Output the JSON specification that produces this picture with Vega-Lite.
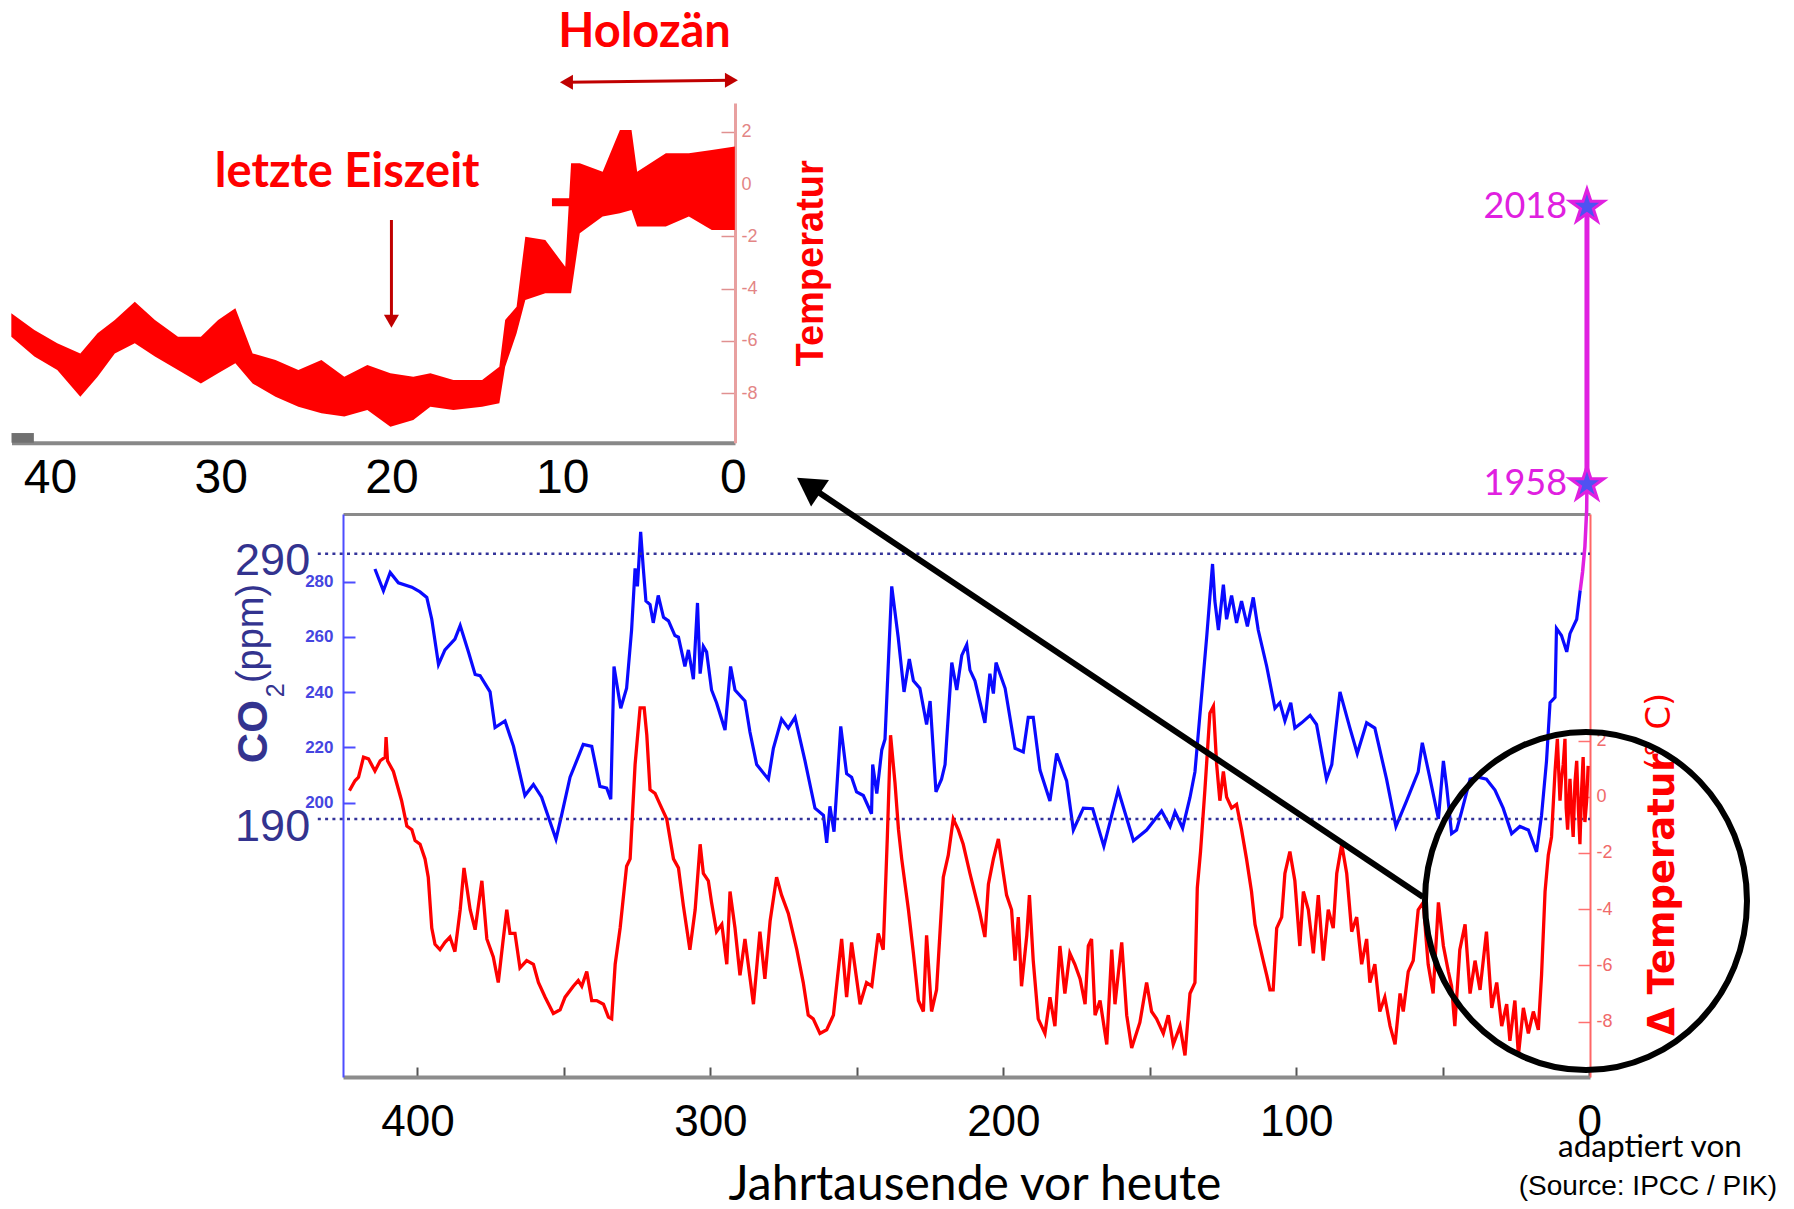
{
  "$schema": "https://vega.github.io/schema/vega-lite/v6.json",
  "width": 1247,
  "height": 563,
  "autosize": {"type": "none"},
  "padding": {"left": 343, "top": 514, "right": 204, "bottom": 132},
  "background": "white",
  "config": {"view": {"stroke": null}, "font": "Liberation Sans"},
  "datasets": {
    "co2": [
      {"kyr":414.5,"co2":284.6},{"kyr":411.6,"co2":276.7},{"kyr":409.3,"co2":283.3},{"kyr":406.5,"co2":279.6},{"kyr":401.9,"co2":278.0},{"kyr":399.1,"co2":276.3},{"kyr":396.8,"co2":274.3},{"kyr":395.1,"co2":266.4},{"kyr":392.8,"co2":250.0},{"kyr":390.6,"co2":255.3},{"kyr":387.2,"co2":259.2},{"kyr":385.4,"co2":264.1},{"kyr":382.6,"co2":254.6},{"kyr":380.3,"co2":246.4},{"kyr":378.6,"co2":246.0},{"kyr":375.2,"co2":240.1},{"kyr":373.5,"co2":227.2},{"kyr":370.1,"co2":229.6},{"kyr":367.2,"co2":220.4},{"kyr":363.3,"co2":202.6},{"kyr":360.4,"co2":206.6},{"kyr":357.6,"co2":202.0},{"kyr":352.7,"co2":186.8},{"kyr":350.8,"co2":195.4},{"kyr":347.9,"co2":209.2},{"kyr":343.4,"co2":221.1},{"kyr":340.5,"co2":220.4},{"kyr":337.7,"co2":205.9},{"kyr":335.4,"co2":205.3},{"kyr":334.0,"co2":201.3},{"kyr":332.9,"co2":249.3},{"kyr":330.6,"co2":234.2},{"kyr":328.6,"co2":241.4},{"kyr":326.9,"co2":262.5},{"kyr":325.7,"co2":284.8},{"kyr":324.9,"co2":278.3},{"kyr":323.8,"co2":298.0},{"kyr":322.9,"co2":284.8},{"kyr":322.0,"co2":273.0},{"kyr":320.6,"co2":271.7},{"kyr":319.5,"co2":265.1},{"kyr":317.8,"co2":275.0},
      {"kyr":316.0,"co2":267.1},{"kyr":314.3,"co2":265.8},{"kyr":312.1,"co2":260.5},{"kyr":310.9,"co2":259.9},{"kyr":308.7,"co2":249.3},{"kyr":307.5,"co2":255.3},{"kyr":305.8,"co2":244.7},{"kyr":304.4,"co2":272.3},{"kyr":303.5,"co2":246.7},{"kyr":302.4,"co2":256.6},{"kyr":301.3,"co2":254.6},{"kyr":299.6,"co2":240.8},{"kyr":297.9,"co2":236.2},{"kyr":295.0,"co2":226.3},{"kyr":293.1,"co2":249.3},{"kyr":291.6,"co2":240.8},{"kyr":288.2,"co2":236.8},{"kyr":286.5,"co2":225.6},{"kyr":284.2,"co2":213.8},{"kyr":280.2,"co2":208.5},{"kyr":278.5,"co2":219.7},{"kyr":275.7,"co2":230.3},{"kyr":273.4,"co2":227.0},{"kyr":271.1,"co2":230.9},{"kyr":267.7,"co2":215.1},{"kyr":264.3,"co2":198.0},{"kyr":261.4,"co2":195.4},{"kyr":260.3,"co2":185.5},{"kyr":259.2,"co2":198.7},{"kyr":257.8,"co2":189.5},{"kyr":255.5,"co2":227.6},{"kyr":253.5,"co2":210.5},{"kyr":251.8,"co2":209.2},{"kyr":250.1,"co2":203.9},{"kyr":247.8,"co2":202.6},{"kyr":245.0,"co2":196.0},{"kyr":244.6,"co2":213.8},{"kyr":243.2,"co2":203.3},{"kyr":241.5,"co2":219.1},{"kyr":240.4,"co2":223.0},{"kyr":238.1,"co2":278.3},{"kyr":235.9,"co2":259.9},{"kyr":233.9,"co2":240.1},{"kyr":232.1,"co2":252.0},{"kyr":230.7,"co2":244.1},{"kyr":228.5,"co2":241.4},{"kyr":226.2,"co2":228.3},{"kyr":225.0,"co2":236.8},{"kyr":223.0,"co2":203.9},{"kyr":221.1,"co2":208.5},{"kyr":219.9,"co2":213.8},{"kyr":217.6,"co2":250.7},{"kyr":215.9,"co2":240.8},{"kyr":214.2,"co2":253.3},{"kyr":212.5,"co2":257.2},{"kyr":211.4,"co2":248.0},
      {"kyr":209.7,"co2":244.1},{"kyr":206.3,"co2":228.9},{"kyr":204.6,"co2":246.7},{"kyr":203.4,"co2":239.5},{"kyr":202.5,"co2":250.7},{"kyr":199.4,"co2":241.4},{"kyr":196.0,"co2":219.7},{"kyr":193.2,"co2":218.4},{"kyr":191.5,"co2":230.9},{"kyr":189.8,"co2":230.9},{"kyr":187.5,"co2":211.8},{"kyr":184.1,"co2":200.6},{"kyr":181.8,"co2":217.8},{"kyr":178.4,"co2":207.9},{"kyr":176.1,"co2":190.1},{"kyr":172.7,"co2":198.0},{"kyr":169.5,"co2":197.8},{"kyr":165.7,"co2":184.2},{"kyr":160.8,"co2":204.6},{"kyr":155.6,"co2":186.2},{"kyr":151.1,"co2":190.1},{"kyr":146.0,"co2":197.0},{"kyr":143.1,"co2":191.4},{"kyr":141.4,"co2":196.7},{"kyr":138.8,"co2":190.8},{"kyr":136.3,"co2":201.9},{"kyr":134.6,"co2":211.2},{"kyr":130.6,"co2":259.9},{"kyr":128.6,"co2":286.4},{"kyr":127.8,"co2":273.0},{"kyr":126.6,"co2":262.5},{"kyr":124.9,"co2":278.9},{"kyr":123.8,"co2":266.4},{"kyr":122.1,"co2":275.0},{"kyr":120.4,"co2":265.1},{"kyr":118.7,"co2":273.0},{"kyr":116.7,"co2":263.8},{"kyr":114.7,"co2":274.3},{"kyr":113.0,"co2":262.5},{"kyr":110.1,"co2":249.3},
      {"kyr":107.3,"co2":234.2},{"kyr":105.6,"co2":236.2},{"kyr":103.9,"co2":229.6},{"kyr":101.9,"co2":236.2},{"kyr":100.5,"co2":227.0},{"kyr":98.2,"co2":228.9},{"kyr":95.3,"co2":231.6},{"kyr":93.1,"co2":228.3},{"kyr":89.7,"co2":208.5},{"kyr":87.9,"co2":213.8},{"kyr":85.1,"co2":240.1},{"kyr":81.7,"co2":227.0},{"kyr":79.2,"co2":217.8},{"kyr":76.0,"co2":228.9},{"kyr":73.2,"co2":227.0},{"kyr":69.2,"co2":208.5},{"kyr":66.0,"co2":191.4},{"kyr":62.4,"co2":200.6},{"kyr":58.4,"co2":211.2},{"kyr":57.0,"co2":221.7},{"kyr":54.6,"co2":209.9},{"kyr":51.5,"co2":194.1},{"kyr":49.8,"co2":215.1},{"kyr":48.7,"co2":205.9},{"kyr":47.0,"co2":188.8},{"kyr":45.3,"co2":190.1},{"kyr":43.6,"co2":196.7},{"kyr":40.7,"co2":208.5},{"kyr":37.9,"co2":209.2},{"kyr":35.1,"co2":208.5},{"kyr":32.2,"co2":204.6},{"kyr":29.4,"co2":198.0},{"kyr":26.5,"co2":188.8},{"kyr":23.7,"co2":191.4},{"kyr":20.8,"co2":190.1},{"kyr":18.0,"co2":182.2},{"kyr":16.3,"co2":195.4},{"kyr":14.6,"co2":215.1},{"kyr":13.4,"co2":236.2},{"kyr":11.7,"co2":238.1},{"kyr":11.2,"co2":263.1},{"kyr":9.5,"co2":260.5},{"kyr":7.7,"co2":254.6},{"kyr":6.6,"co2":261.2},{"kyr":4.3,"co2":266.4},{"kyr":3.1,"co2":276.9}
    ],
    "temp": [
      {"kyr":423.2,"temp":0.22},{"kyr":421.3,"temp":0.57},{"kyr":420.1,"temp":0.70},{"kyr":418.4,"temp":1.41},{"kyr":416.7,"temp":1.35},{"kyr":414.5,"temp":0.92},{"kyr":412.7,"temp":1.28},{"kyr":411.0,"temp":1.41},{"kyr":410.7,"temp":2.12},{"kyr":410.2,"temp":1.28},{"kyr":408.2,"temp":0.90},{"kyr":405.4,"temp":-0.14},{"kyr":403.6,"temp":-1.04},{"kyr":401.9,"temp":-1.17},{"kyr":400.8,"temp":-1.56},{"kyr":399.1,"temp":-1.69},{"kyr":397.4,"temp":-2.21},{"kyr":396.3,"temp":-2.86},{"kyr":395.1,"temp":-4.67},{"kyr":394.0,"temp":-5.25},{"kyr":392.3,"temp":-5.44},{"kyr":390.6,"temp":-5.18},{"kyr":388.9,"temp":-4.99},{"kyr":387.2,"temp":-5.51},{"kyr":385.4,"temp":-4.02},{"kyr":384.1,"temp":-2.53},{"kyr":382.0,"temp":-4.02},{"kyr":380.3,"temp":-4.73},{"kyr":379.2,"temp":-3.89},{"kyr":378.0,"temp":-2.99},{"kyr":376.3,"temp":-5.06},{"kyr":374.1,"temp":-5.70},{"kyr":372.4,"temp":-6.61},{"kyr":370.7,"temp":-5.06},{"kyr":369.5,"temp":-4.02},{"kyr":368.4,"temp":-4.86},{"kyr":366.7,"temp":-4.86},{"kyr":365.0,"temp":-6.09},{"kyr":362.7,"temp":-5.83},{"kyr":360.4,"temp":-5.96},{"kyr":358.7,"temp":-6.61},{"kyr":356.4,"temp":-7.13},{"kyr":353.6,"temp":-7.71},{"kyr":351.3,"temp":-7.58},{"kyr":349.6,"temp":-7.13},{"kyr":346.8,"temp":-6.74},{"kyr":345.1,"temp":-6.54},{"kyr":343.9,"temp":-6.74},{"kyr":342.2,"temp":-6.22},{"kyr":340.5,"temp":-7.25},{"kyr":338.8,"temp":-7.25},{"kyr":336.5,"temp":-7.38},{"kyr":334.8,"temp":-7.84},{"kyr":333.7,"temp":-7.90},{"kyr":332.5,"temp":-5.96},{"kyr":330.8,"temp":-4.67},{"kyr":328.6,"temp":-2.47},{"kyr":327.4,"temp":-2.21},{"kyr":325.7,"temp":1.15},{"kyr":324.0,"temp":3.16},{"kyr":322.6,"temp":3.16},{"kyr":321.7,"temp":2.19},{"kyr":320.6,"temp":0.25},{"kyr":318.9,"temp":0.12},{"kyr":317.2,"temp":-0.27},
      {"kyr":314.9,"temp":-0.79},{"kyr":312.6,"temp":-2.21},{"kyr":310.9,"temp":-2.53},{"kyr":309.2,"temp":-3.89},{"kyr":307.0,"temp":-5.44},{"kyr":305.2,"temp":-4.02},{"kyr":303.5,"temp":-1.69},{"kyr":302.4,"temp":-2.73},{"kyr":300.7,"temp":-2.99},{"kyr":299.6,"temp":-3.76},{"kyr":297.9,"temp":-4.80},{"kyr":296.1,"temp":-4.54},{"kyr":294.4,"temp":-5.96},{"kyr":293.3,"temp":-3.37},{"kyr":291.6,"temp":-4.67},{"kyr":289.9,"temp":-6.35},{"kyr":288.2,"temp":-5.06},{"kyr":285.3,"temp":-7.38},{"kyr":283.1,"temp":-4.80},{"kyr":281.4,"temp":-6.48},{"kyr":279.6,"temp":-4.41},{"kyr":277.4,"temp":-2.86},{"kyr":275.7,"temp":-3.50},{"kyr":273.4,"temp":-4.15},{"kyr":270.5,"temp":-5.44},{"kyr":268.3,"temp":-6.61},{"kyr":266.6,"temp":-7.77},{"kyr":264.9,"temp":-7.90},{"kyr":262.6,"temp":-8.42},{"kyr":260.3,"temp":-8.29},{"kyr":258.0,"temp":-7.77},{"kyr":255.2,"temp":-5.06},{"kyr":253.5,"temp":-7.13},{"kyr":251.8,"temp":-5.18},{"kyr":250.6,"temp":-6.09},{"kyr":248.9,"temp":-7.38},{"kyr":246.7,"temp":-6.61},{"kyr":244.9,"temp":-6.74},{"kyr":242.7,"temp":-4.86},{"kyr":241.0,"temp":-5.44},{"kyr":239.6,"temp":-1.43},{"kyr":238.5,"temp":2.19},{"kyr":237.0,"temp":0.51},{"kyr":235.8,"temp":-1.17},{"kyr":234.7,"temp":-2.21},{"kyr":232.4,"temp":-4.02},{"kyr":230.7,"temp":-5.57},{"kyr":229.0,"temp":-7.25},{"kyr":227.3,"temp":-7.64},{"kyr":226.2,"temp":-4.93},{"kyr":224.5,"temp":-7.64},{"kyr":222.8,"temp":-6.87},{"kyr":220.5,"temp":-2.86},{"kyr":218.8,"temp":-2.08},{"kyr":217.1,"temp":-0.79},{"kyr":215.4,"temp":-1.17},{"kyr":213.7,"temp":-1.69},{"kyr":211.4,"temp":-2.73},
      {"kyr":208.0,"temp":-4.15},{"kyr":206.3,"temp":-4.99},{"kyr":205.1,"temp":-3.11},{"kyr":203.4,"temp":-2.21},{"kyr":201.7,"temp":-1.50},{"kyr":200.0,"temp":-2.73},{"kyr":198.9,"temp":-3.50},{"kyr":197.2,"temp":-4.02},{"kyr":196.0,"temp":-5.83},{"kyr":194.9,"temp":-4.28},{"kyr":193.8,"temp":-6.74},{"kyr":192.0,"temp":-4.93},{"kyr":191.1,"temp":-3.50},{"kyr":189.8,"temp":-5.83},{"kyr":188.1,"temp":-7.90},{"kyr":185.8,"temp":-8.42},{"kyr":184.1,"temp":-7.13},{"kyr":182.4,"temp":-8.16},{"kyr":180.7,"temp":-5.31},{"kyr":179.0,"temp":-7.00},{"kyr":177.3,"temp":-5.57},{"kyr":175.6,"temp":-5.96},{"kyr":173.8,"temp":-6.48},{"kyr":172.1,"temp":-7.38},{"kyr":171.0,"temp":-5.31},{"kyr":169.9,"temp":-5.06},{"kyr":168.7,"temp":-7.77},{"kyr":167.0,"temp":-7.25},{"kyr":164.7,"temp":-8.81},{"kyr":163.0,"temp":-5.44},{"kyr":161.9,"temp":-7.38},{"kyr":159.6,"temp":-5.18},{"kyr":157.9,"temp":-7.77},{"kyr":156.2,"temp":-8.94},{"kyr":153.4,"temp":-8.03},{"kyr":151.1,"temp":-6.61},{"kyr":149.4,"temp":-7.64},{"kyr":147.7,"temp":-7.90},{"kyr":145.4,"temp":-8.42},{"kyr":143.7,"temp":-7.77},{"kyr":142.0,"temp":-8.81},{"kyr":139.7,"temp":-8.16},{"kyr":138.0,"temp":-9.20},{"kyr":136.3,"temp":-7.00},{"kyr":134.6,"temp":-6.61},{"kyr":133.8,"temp":-3.24},{"kyr":132.7,"temp":-1.95},{"kyr":131.2,"temp":0.25},{"kyr":129.5,"temp":2.97},{"kyr":128.3,"temp":3.22},{"kyr":127.2,"temp":1.15},{"kyr":126.1,"temp":-0.14},{"kyr":124.9,"temp":0.90},{"kyr":123.8,"temp":-0.01},{"kyr":122.1,"temp":-0.40},{"kyr":120.4,"temp":-0.27},{"kyr":118.7,"temp":-1.17},{"kyr":117.0,"temp":-2.21},{"kyr":115.3,"temp":-3.37},{"kyr":114.1,"temp":-4.54},{"kyr":113.0,"temp":-5.06},{"kyr":111.3,"temp":-5.83},{"kyr":110.1,"temp":-6.35},{"kyr":109.0,"temp":-6.87},
      {"kyr":107.9,"temp":-6.87},{"kyr":106.7,"temp":-4.67},{"kyr":105.0,"temp":-4.28},{"kyr":103.9,"temp":-2.73},{"kyr":102.2,"temp":-1.95},{"kyr":100.5,"temp":-2.99},{"kyr":98.8,"temp":-5.31},{"kyr":97.6,"temp":-3.37},{"kyr":95.9,"temp":-4.02},{"kyr":94.2,"temp":-5.57},{"kyr":92.5,"temp":-3.50},{"kyr":90.8,"temp":-5.83},{"kyr":89.1,"temp":-4.02},{"kyr":87.4,"temp":-4.67},{"kyr":86.2,"temp":-2.73},{"kyr":84.5,"temp":-1.69},{"kyr":82.8,"temp":-2.73},{"kyr":81.1,"temp":-4.80},{"kyr":79.4,"temp":-4.28},{"kyr":77.7,"temp":-5.96},{"kyr":76.0,"temp":-5.06},{"kyr":74.9,"temp":-6.61},{"kyr":73.2,"temp":-5.96},{"kyr":71.5,"temp":-7.64},{"kyr":69.8,"temp":-7.13},{"kyr":68.0,"temp":-8.16},{"kyr":66.3,"temp":-8.81},{"kyr":64.6,"temp":-7.00},{"kyr":63.5,"temp":-7.64},{"kyr":61.8,"temp":-6.22},{"kyr":60.1,"temp":-5.83},{"kyr":58.4,"temp":-4.02},{"kyr":56.7,"temp":-3.76},{"kyr":55.0,"temp":-5.96},{"kyr":53.3,"temp":-7.00},{"kyr":51.5,"temp":-3.76},{"kyr":49.8,"temp":-5.31},{"kyr":48.1,"temp":-6.22},{"kyr":47.0,"temp":-6.74},{"kyr":45.9,"temp":-8.16},{"kyr":44.2,"temp":-5.44},{"kyr":42.4,"temp":-4.54},{"kyr":40.7,"temp":-7.00},{"kyr":39.0,"temp":-5.83},{"kyr":37.3,"temp":-6.87},{"kyr":35.1,"temp":-4.80},{"kyr":33.3,"temp":-7.51},{"kyr":31.6,"temp":-6.61},{"kyr":29.9,"temp":-8.16},{"kyr":28.2,"temp":-7.38},{"kyr":27.1,"temp":-8.68},{"kyr":25.4,"temp":-7.25},{"kyr":24.2,"temp":-9.20},{"kyr":22.5,"temp":-7.51},{"kyr":20.8,"temp":-8.42},{"kyr":19.1,"temp":-7.64},{"kyr":17.4,"temp":-8.29},{"kyr":16.3,"temp":-6.35},{"kyr":15.1,"temp":-3.37},{"kyr":14.0,"temp":-2.08},{"kyr":12.9,"temp":-1.43},{"kyr":11.7,"temp":0.90},{"kyr":10.9,"temp":2.06},{"kyr":10.0,"temp":-0.14},{"kyr":9.5,"temp":0.6},{"kyr":8.9,"temp":1.15},{"kyr":8.3,"temp":2.06},{"kyr":7.9,"temp":-0.4},{"kyr":7.4,"temp":-1.17},{"kyr":6.6,"temp":0.64},{"kyr":6.0,"temp":-0.6},{"kyr":5.5,"temp":-1.43},{"kyr":4.9,"temp":0.5},{"kyr":4.3,"temp":1.28},{"kyr":3.7,"temp":-0.5},{"kyr":3.2,"temp":-1.69},{"kyr":2.6,"temp":0.3},{"kyr":2.1,"temp":1.41},{"kyr":1.5,"temp":-0.9},{"kyr":0.9,"temp":-0.14},{"kyr":0.4,"temp":1.1}
    ],
    "inset": [
      {"kyr":42.26,"hi":-4.94,"lo":-5.84},{"kyr":40.91,"hi":-5.58,"lo":-6.60},{"kyr":39.57,"hi":-6.09,"lo":-7.12},{"kyr":38.22,"hi":-6.48,"lo":-8.14},{"kyr":37.21,"hi":-5.71,"lo":-7.37},{"kyr":36.20,"hi":-5.20,"lo":-6.48},{"kyr":35.03,"hi":-4.50,"lo":-6.09},{"kyr":33.85,"hi":-5.20,"lo":-6.60},{"kyr":32.50,"hi":-5.84,"lo":-7.12},{"kyr":31.16,"hi":-5.84,"lo":-7.63},{"kyr":30.15,"hi":-5.20,"lo":-7.24},{"kyr":29.14,"hi":-4.75,"lo":-6.86},{"kyr":28.13,"hi":-6.48,"lo":-7.63},{"kyr":26.79,"hi":-6.73,"lo":-8.14},{"kyr":25.45,"hi":-7.12,"lo":-8.52},{"kyr":24.10,"hi":-6.73,"lo":-8.77},{"kyr":22.76,"hi":-7.37,"lo":-8.90},{"kyr":21.41,"hi":-6.92,"lo":-8.65},{"kyr":20.06,"hi":-7.24,"lo":-9.29},{"kyr":18.72,"hi":-7.37,"lo":-9.03},{"kyr":17.72,"hi":-7.24,"lo":-8.52},{"kyr":16.37,"hi":-7.50,"lo":-8.65},{"kyr":14.69,"hi":-7.50,"lo":-8.52},{"kyr":13.68,"hi":-6.99,"lo":-8.39},{"kyr":13.34,"hi":-5.20,"lo":-6.99},{"kyr":12.67,"hi":-4.69,"lo":-5.71},{"kyr":12.16,"hi":-2.01,"lo":-4.43},{"kyr":10.99,"hi":-2.14,"lo":-4.18},{"kyr":9.82,"hi":-3.16,"lo":-4.18},{"kyr":9.48,"hi":0.80,"lo":-4.18},{"kyr":8.97,"hi":0.80,"lo":-1.88},{"kyr":7.63,"hi":0.48,"lo":-1.24},{"kyr":6.62,"hi":2.08,"lo":-1.11},{"kyr":5.94,"hi":2.08,"lo":-0.99},{"kyr":5.61,"hi":0.48,"lo":-1.62},{"kyr":3.93,"hi":1.19,"lo":-1.62},{"kyr":2.58,"hi":1.19,"lo":-1.24},{"kyr":1.24,"hi":1.31,"lo":-1.75},{"kyr":-0.11,"hi":1.44,"lo":-1.75}
    ]
  },
  "layer": [
    {
      "layer": [
        {
          "data": {"name": "co2"},
          "mark": {"type": "line", "color": "#0a0aff", "strokeWidth": 3.2, "clip": false},
          "encoding": {
            "x": {"field": "kyr", "type": "quantitative", "scale": {"domain": [425.4, -0.24], "nice": false, "zero": false},
              "axis": {"orient": "bottom", "title": null, "grid": false, "values": [400, 350, 300, 250, 200, 150, 100, 50, 0],
                "labelExpr": "datum.value % 100 == 0 ? datum.label : ''", "tickSize": -10, "tickColor": "#555555", "tickWidth": 2,
                "labelFont": "Liberation Sans", "labelFontSize": 44, "labelColor": "#000000", "labelPadding": 33, "labelFlush": false, "labelOverlap": false,
                "domainColor": "#8c8c8c", "domainWidth": 4}},
            "y": {"field": "co2", "type": "quantitative", "scale": {"domain": [100.7, 304.5], "nice": false, "zero": false},
              "axis": {"orient": "left", "title": null, "grid": false, "values": [200, 220, 240, 260, 280], "tickSize": -12, "tickColor": "#4d4dff", "tickWidth": 2,
                "labelFont": "Liberation Sans", "labelFontWeight": "bold", "labelFontSize": 17, "labelColor": "#4545e0", "labelPadding": 22, "labelOverlap": false,
                "domainColor": "#4d4dff", "domainWidth": 2}}
          }
        },
        {
          "data": {"values": [{"kyr": 434, "kyr2": -0.24, "co2": 290.1}, {"kyr": 434, "kyr2": -0.24, "co2": 194.1}]},
          "mark": {"type": "rule", "color": "#333399", "strokeWidth": 2.5, "strokeDash": [3, 4.3], "clip": false},
          "encoding": {
            "x": {"field": "kyr", "type": "quantitative", "scale": {"domain": [425.4, -0.24], "nice": false, "zero": false}},
            "x2": {"field": "kyr2"},
            "y": {"field": "co2", "type": "quantitative", "scale": {"domain": [100.7, 304.5], "nice": false, "zero": false}}
          }
        },
        {
          "data": {"values": [{"kyr": 3.1, "co2": 276.9}, {"kyr": 2.3, "co2": 283.5}, {"kyr": 1.5, "co2": 292.7}, {"kyr": 0.9, "co2": 305.9}, {"kyr": 0.8, "co2": 315.3}]},
          "mark": {"type": "line", "color": "#e020e0", "strokeWidth": 3.5, "clip": false},
          "encoding": {
            "x": {"field": "kyr", "type": "quantitative", "scale": {"domain": [425.4, -0.24], "nice": false, "zero": false}},
            "y": {"field": "co2", "type": "quantitative", "scale": {"domain": [100.7, 304.5], "nice": false, "zero": false}}
          }
        },
        {
          "data": {"values": [{"kyr": 0.8, "co2": 315.3, "co2b": 415.7}]},
          "mark": {"type": "rule", "color": "#e020e0", "strokeWidth": 5, "clip": false},
          "encoding": {
            "x": {"field": "kyr", "type": "quantitative", "scale": {"domain": [425.4, -0.24], "nice": false, "zero": false}},
            "y": {"field": "co2", "type": "quantitative", "scale": {"domain": [100.7, 304.5], "nice": false, "zero": false}},
            "y2": {"field": "co2b"}
          }
        },
        {
          "data": {"values": [{"kyr": 0.8, "co2": 315.3, "year": "1958"}, {"kyr": 0.8, "co2": 415.7, "year": "2018"}]},
          "mark": {"type": "point", "shape": "M0,-1L0.2245,-0.309L0.951,-0.309L0.363,0.118L0.588,0.809L0,0.382L-0.588,0.809L-0.363,0.118L-0.951,-0.309L-0.2245,-0.309Z",
            "size": 1260, "filled": true, "fill": "#4f52f2", "stroke": "#e020e0", "strokeWidth": 3, "opacity": 1, "clip": false},
          "encoding": {
            "x": {"field": "kyr", "type": "quantitative", "scale": {"domain": [425.4, -0.24], "nice": false, "zero": false}},
            "y": {"field": "co2", "type": "quantitative", "scale": {"domain": [100.7, 304.5], "nice": false, "zero": false}}
          }
        },
        {
          "data": {"values": [{"kyr": 7.6, "co2": 315.3, "label": "1958"}, {"kyr": 7.6, "co2": 415.7, "label": "2018"}]},
          "mark": {"type": "text", "font": "Lato", "fontSize": 36, "color": "#e020e0", "align": "right", "baseline": "middle", "clip": false},
          "encoding": {
            "x": {"field": "kyr", "type": "quantitative", "scale": {"domain": [425.4, -0.24], "nice": false, "zero": false}},
            "y": {"field": "co2", "type": "quantitative", "scale": {"domain": [100.7, 304.5], "nice": false, "zero": false}},
            "text": {"field": "label"}
          }
        },
        {
          "data": {"values": [{"kyr": 436.6, "co2": 287.5, "label": "290"}, {"kyr": 436.6, "co2": 191.3, "label": "190"}]},
          "mark": {"type": "text", "font": "Liberation Sans", "fontSize": 45, "color": "#33338f", "align": "right", "baseline": "middle", "clip": false},
          "encoding": {
            "x": {"field": "kyr", "type": "quantitative", "scale": {"domain": [425.4, -0.24], "nice": false, "zero": false}},
            "y": {"field": "co2", "type": "quantitative", "scale": {"domain": [100.7, 304.5], "nice": false, "zero": false}},
            "text": {"field": "label"}
          }
        },
        {
          "data": {"values": [{"kyr": 455.9, "co2": 214.3, "label": "CO"}]},
          "mark": {"type": "text", "font": "Liberation Sans", "fontWeight": "bold", "fontSize": 42, "color": "#33338f", "align": "left", "baseline": "middle", "angle": 270, "clip": false},
          "encoding": {
            "x": {"field": "kyr", "type": "quantitative", "scale": {"domain": [425.4, -0.24], "nice": false, "zero": false}},
            "y": {"field": "co2", "type": "quantitative", "scale": {"domain": [100.7, 304.5], "nice": false, "zero": false}},
            "text": {"field": "label"}
          }
        },
        {
          "data": {"values": [{"kyr": 448.4, "co2": 238.2, "label": "2"}]},
          "mark": {"type": "text", "font": "Liberation Sans", "fontSize": 25, "color": "#33338f", "align": "left", "baseline": "middle", "angle": 270, "clip": false},
          "encoding": {
            "x": {"field": "kyr", "type": "quantitative", "scale": {"domain": [425.4, -0.24], "nice": false, "zero": false}},
            "y": {"field": "co2", "type": "quantitative", "scale": {"domain": [100.7, 304.5], "nice": false, "zero": false}},
            "text": {"field": "label"}
          }
        },
        {
          "data": {"values": [{"kyr": 456.4, "co2": 243.3, "label": "(ppm)"}]},
          "mark": {"type": "text", "font": "Liberation Sans", "fontSize": 38, "color": "#33338f", "align": "left", "baseline": "middle", "angle": 270, "clip": false},
          "encoding": {
            "x": {"field": "kyr", "type": "quantitative", "scale": {"domain": [425.4, -0.24], "nice": false, "zero": false}},
            "y": {"field": "co2", "type": "quantitative", "scale": {"domain": [100.7, 304.5], "nice": false, "zero": false}},
            "text": {"field": "label"}
          }
        },
        {
          "data": {"values": [{"kyr": 209.7, "co2": 56.2, "label": "Jahrtausende vor heute"}]},
          "mark": {"type": "text", "font": "Lato", "fontSize": 48, "color": "#000000", "align": "center", "baseline": "alphabetic", "clip": false},
          "encoding": {
            "x": {"field": "kyr", "type": "quantitative", "scale": {"domain": [425.4, -0.24], "nice": false, "zero": false}},
            "y": {"field": "co2", "type": "quantitative", "scale": {"domain": [100.7, 304.5], "nice": false, "zero": false}},
            "text": {"field": "label"}
          }
        },
        {
          "data": {"values": [{"kyr": -20.7, "co2": 71.7, "label": "adaptiert von"}]},
          "mark": {"type": "text", "font": "Lato", "fontSize": 31.5, "color": "#000000", "align": "center", "baseline": "alphabetic", "clip": false},
          "encoding": {
            "x": {"field": "kyr", "type": "quantitative", "scale": {"domain": [425.4, -0.24], "nice": false, "zero": false}},
            "y": {"field": "co2", "type": "quantitative", "scale": {"domain": [100.7, 304.5], "nice": false, "zero": false}},
            "text": {"field": "label"}
          }
        },
        {
          "data": {"values": [{"kyr": -20.0, "co2": 58.0, "label": "(Source: IPCC / PIK)"}]},
          "mark": {"type": "text", "font": "Liberation Sans", "fontSize": 28, "color": "#000000", "align": "center", "baseline": "alphabetic", "clip": false},
          "encoding": {
            "x": {"field": "kyr", "type": "quantitative", "scale": {"domain": [425.4, -0.24], "nice": false, "zero": false}},
            "y": {"field": "co2", "type": "quantitative", "scale": {"domain": [100.7, 304.5], "nice": false, "zero": false}},
            "text": {"field": "label"}
          }
        }
      ]
    },
    {
      "layer": [
        {
          "data": {"name": "temp"},
          "mark": {"type": "line", "color": "#ff0000", "strokeWidth": 3.3, "clip": false},
          "encoding": {
            "x": {"field": "kyr", "type": "quantitative", "scale": {"domain": [425.4, -0.24], "nice": false, "zero": false},
              "axis": {"orient": "top", "title": null, "grid": false, "ticks": false, "labels": false, "domainColor": "#8a8a8a", "domainWidth": 3}},
            "y": {"field": "temp", "type": "quantitative", "scale": {"domain": [-9.97, 10.06], "nice": false, "zero": false},
              "axis": {"orient": "right", "title": null, "grid": false, "values": [2, 0, -2, -4, -6, -8], "labelExpr": "'' + datum.value",
                "tickSize": -12, "tickColor": "#ff7070", "tickWidth": 1.5, "labelFont": "Liberation Sans", "labelFontSize": 18, "labelColor": "#f06a6a",
                "labelPadding": 18, "labelOverlap": false, "labelFlush": false, "domainColor": "#ff6666", "domainWidth": 2}}
          }
        },
        {
          "data": {"values": [{"kyr": -25.2, "temp": -8.51, "label": "Δ Temperatur"}]},
          "mark": {"type": "text", "font": "DejaVu Sans", "fontWeight": "bold", "fontSize": 37, "color": "#ff0000", "align": "left", "baseline": "middle", "angle": 270, "clip": false},
          "encoding": {
            "x": {"field": "kyr", "type": "quantitative", "scale": {"domain": [425.4, -0.24], "nice": false, "zero": false}},
            "y": {"field": "temp", "type": "quantitative", "scale": {"domain": [-9.97, 10.06], "nice": false, "zero": false}},
            "text": {"field": "label"}
          }
        },
        {
          "data": {"values": [{"kyr": -24.1, "temp": 0.92, "label": "(° C)"}]},
          "mark": {"type": "text", "font": "DejaVu Sans", "fontSize": 34, "color": "#ff0000", "align": "left", "baseline": "middle", "angle": 270, "clip": false},
          "encoding": {
            "x": {"field": "kyr", "type": "quantitative", "scale": {"domain": [425.4, -0.24], "nice": false, "zero": false}},
            "y": {"field": "temp", "type": "quantitative", "scale": {"domain": [-9.97, 10.06], "nice": false, "zero": false}},
            "text": {"field": "label"}
          }
        },
        {
          "data": {"values": [{"kyr": 56.76, "temp": -3.57, "kyr2": 266.5, "temp2": 11.07}]},
          "mark": {"type": "rule", "color": "#000000", "strokeWidth": 6, "clip": false},
          "encoding": {
            "x": {"field": "kyr", "type": "quantitative", "scale": {"domain": [425.4, -0.24], "nice": false, "zero": false}},
            "y": {"field": "temp", "type": "quantitative", "scale": {"domain": [-9.97, 10.06], "nice": false, "zero": false}},
            "x2": {"field": "kyr2"},
            "y2": {"field": "temp2"}
          }
        },
        {
          "data": {"values": [{"kyr": 266.5, "temp": 11.07}]},
          "mark": {"type": "point", "shape": "triangle-up", "size": 1024, "angle": 304, "filled": true, "color": "#000000", "opacity": 1, "clip": false},
          "encoding": {
            "x": {"field": "kyr", "type": "quantitative", "scale": {"domain": [425.4, -0.24], "nice": false, "zero": false}},
            "y": {"field": "temp", "type": "quantitative", "scale": {"domain": [-9.97, 10.06], "nice": false, "zero": false}}
          }
        },
        {
          "data": {"values": [{"kyr": 1.13, "temp": -3.71}]},
          "mark": {"type": "point", "shape": "M-1,0A1,1.05,0,1,1,1,0A1,1.05,0,1,1,-1,0Z", "size": 103684, "filled": false, "stroke": "#000000", "strokeWidth": 6, "opacity": 1, "clip": false},
          "encoding": {
            "x": {"field": "kyr", "type": "quantitative", "scale": {"domain": [425.4, -0.24], "nice": false, "zero": false}},
            "y": {"field": "temp", "type": "quantitative", "scale": {"domain": [-9.97, 10.06], "nice": false, "zero": false}}
          }
        }
      ]
    },
    {
      "layer": [
        {
          "data": {"name": "inset"},
          "mark": {"type": "area", "color": "#ff0000", "opacity": 1, "clip": false},
          "encoding": {
            "x": {"field": "kyr", "type": "quantitative", "scale": {"domain": [42.25, -0.12], "range": [-331.5, 392], "nice": false, "zero": false},
              "axis": {"orient": "bottom", "offset": -634.3, "title": null, "grid": false, "values": [40, 30, 20, 10, 0], "ticks": false,
                "labelFont": "Liberation Sans", "labelFontSize": 48, "labelColor": "#000000", "labelPadding": 12, "labelFlush": false, "labelOverlap": false,
                "domainColor": "#888888", "domainWidth": 4}},
            "y": {"field": "hi", "type": "quantitative", "scale": {"domain": [-9.9, 3.11], "range": [-71.3, -411], "nice": false, "zero": false},
              "axis": {"orient": "right", "offset": -855, "title": null, "grid": false, "values": [2, 0, -2, -4, -6, -8], "labelExpr": "'' + datum.value",
                "tickSize": -14, "tickColor": "#e09090", "tickWidth": 1.5, "labelFont": "Liberation Sans", "labelFontSize": 18, "labelColor": "#e38585",
                "labelPadding": 20, "labelOverlap": false, "labelFlush": false, "domainColor": "#e8a0a0", "domainWidth": 3}},
            "y2": {"field": "lo"}
          }
        },
        {
          "data": {"values": [{"kyr": 42.25, "kyr2": 40.94, "temp": -9.53, "temp2": -9.9}]},
          "mark": {"type": "rect", "color": "#707070", "clip": false},
          "encoding": {
            "x": {"field": "kyr", "type": "quantitative", "scale": {"domain": [42.25, -0.12], "range": [-331.5, 392], "nice": false, "zero": false}},
            "x2": {"field": "kyr2"},
            "y": {"field": "temp", "type": "quantitative", "scale": {"domain": [-9.9, 3.11], "range": [-71.3, -411], "nice": false, "zero": false}},
            "y2": {"field": "temp2"}
          }
        },
        {
          "data": {"values": [{"kyr": 10.6, "kyr2": 9.3, "temp": -0.69}]},
          "mark": {"type": "rule", "color": "#ff0000", "strokeWidth": 8, "clip": false},
          "encoding": {
            "x": {"field": "kyr", "type": "quantitative", "scale": {"domain": [42.25, -0.12], "range": [-331.5, 392], "nice": false, "zero": false}},
            "x2": {"field": "kyr2"},
            "y": {"field": "temp", "type": "quantitative", "scale": {"domain": [-9.9, 3.11], "range": [-71.3, -411], "nice": false, "zero": false}}
          }
        },
        {
          "data": {"values": [{"kyr": 9.75, "kyr2": 0.09, "temp": 3.9, "temp2": 3.98}, {"kyr": 20, "kyr2": 20, "temp": -1.37, "temp2": -5.25}]},
          "mark": {"type": "rule", "color": "#c00000", "strokeWidth": 3, "clip": false},
          "encoding": {
            "x": {"field": "kyr", "type": "quantitative", "scale": {"domain": [42.25, -0.12], "range": [-331.5, 392], "nice": false, "zero": false}},
            "x2": {"field": "kyr2"},
            "y": {"field": "temp", "type": "quantitative", "scale": {"domain": [-9.9, 3.11], "range": [-71.3, -411], "nice": false, "zero": false}},
            "y2": {"field": "temp2"}
          }
        },
        {
          "data": {"values": [{"kyr": 9.75, "temp": 3.9, "shape": "triangle-left"}, {"kyr": 0.09, "temp": 3.98, "shape": "triangle-right"}, {"kyr": 20, "temp": -5.25, "shape": "triangle-down"}]},
          "mark": {"type": "point", "size": 225, "filled": true, "color": "#c00000", "opacity": 1, "clip": false},
          "encoding": {
            "x": {"field": "kyr", "type": "quantitative", "scale": {"domain": [42.25, -0.12], "range": [-331.5, 392], "nice": false, "zero": false}},
            "y": {"field": "temp", "type": "quantitative", "scale": {"domain": [-9.9, 3.11], "range": [-71.3, -411], "nice": false, "zero": false}},
            "shape": {"field": "shape", "type": "nominal", "scale": null, "legend": null}
          }
        },
        {
          "data": {"values": [{"kyr": 5.18, "temp": 5.26, "label": "Holozän"}, {"kyr": 22.59, "temp": -0.09, "label": "letzte Eiszeit"}]},
          "mark": {"type": "text", "font": "Lato", "fontWeight": "bold", "fontSize": 47, "color": "#ff0000", "align": "center", "baseline": "alphabetic", "clip": false},
          "encoding": {
            "x": {"field": "kyr", "type": "quantitative", "scale": {"domain": [42.25, -0.12], "range": [-331.5, 392], "nice": false, "zero": false}},
            "y": {"field": "temp", "type": "quantitative", "scale": {"domain": [-9.9, 3.11], "range": [-71.3, -411], "nice": false, "zero": false}},
            "text": {"field": "label"}
          }
        },
        {
          "data": {"values": [{"kyr": -4.63, "temp": -3.03, "label": "Temperatur"}]},
          "mark": {"type": "text", "font": "Liberation Sans", "fontWeight": "bold", "fontSize": 38, "color": "#ff0000", "align": "center", "baseline": "middle", "angle": 270, "clip": false},
          "encoding": {
            "x": {"field": "kyr", "type": "quantitative", "scale": {"domain": [42.25, -0.12], "range": [-331.5, 392], "nice": false, "zero": false}},
            "y": {"field": "temp", "type": "quantitative", "scale": {"domain": [-9.9, 3.11], "range": [-71.3, -411], "nice": false, "zero": false}},
            "text": {"field": "label"}
          }
        }
      ]
    }
  ],
  "resolve": {"scale": {"x": "independent", "y": "independent"}, "axis": {"x": "independent", "y": "independent"}}
}
